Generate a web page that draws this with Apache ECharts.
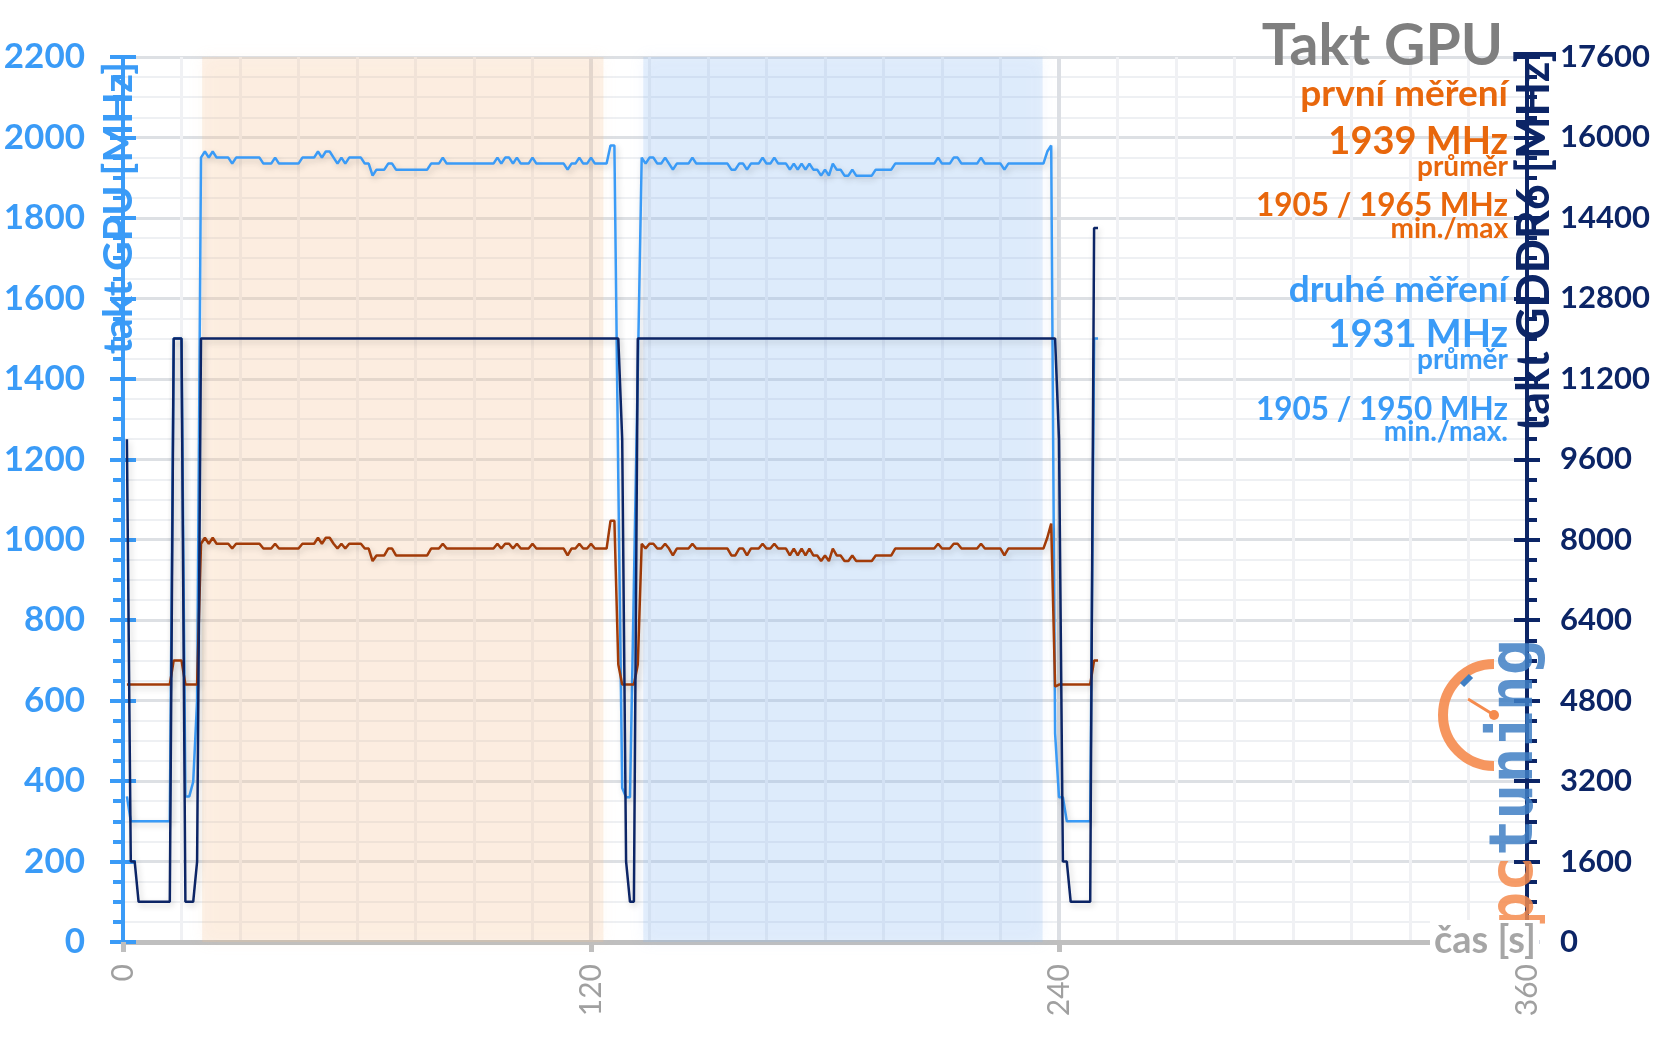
<!DOCTYPE html>
<html><head><meta charset="utf-8">
<script src="https://cdn.jsdelivr.net/npm/echarts@6/dist/echarts.min.js"></script>
<style>html,body{margin:0;padding:0;background:#fff}#c{width:1656px;height:1044px}</style>
</head><body><div id="c"></div><script>
// ---- data (one sample per second, first sample at t = 1 s) ----
const sampleStart = 1;   // s
const sampleStep = 1;    // s

// takt GPU [MHz] (left axis) – light blue line
const gpuClock = [
  362, 300, 300, 300, 300, 300, 300, 300, 300, 300,
  300, 300, 1500, 1500, 1500, 362, 362, 398, 600, 1950,
  1965, 1950, 1965, 1950, 1950, 1950, 1950, 1935, 1950, 1950,
  1950, 1950, 1950, 1950, 1950, 1935, 1935, 1935, 1950, 1935,
  1935, 1935, 1935, 1935, 1935, 1950, 1950, 1950, 1950, 1965,
  1950, 1965, 1965, 1950, 1935, 1950, 1935, 1950, 1950, 1950,
  1950, 1935, 1935, 1905, 1920, 1920, 1920, 1935, 1935, 1920,
  1920, 1920, 1920, 1920, 1920, 1920, 1920, 1920, 1935, 1935,
  1935, 1950, 1935, 1935, 1935, 1935, 1935, 1935, 1935, 1935,
  1935, 1935, 1935, 1935, 1935, 1950, 1935, 1950, 1950, 1935,
  1950, 1935, 1935, 1935, 1950, 1935, 1935, 1935, 1935, 1935,
  1935, 1935, 1935, 1920, 1935, 1935, 1950, 1935, 1935, 1950,
  1935, 1935, 1935, 1935, 1980, 1980, 1150, 383, 360, 360,
  890, 1420, 1950, 1935, 1950, 1950, 1935, 1935, 1950, 1935,
  1920, 1935, 1935, 1935, 1935, 1950, 1935, 1935, 1935, 1935,
  1935, 1935, 1935, 1935, 1935, 1920, 1920, 1935, 1935, 1920,
  1935, 1935, 1935, 1950, 1935, 1935, 1950, 1935, 1935, 1935,
  1920, 1935, 1920, 1935, 1920, 1935, 1920, 1920, 1905, 1920,
  1905, 1935, 1920, 1920, 1905, 1905, 1920, 1905, 1905, 1905,
  1905, 1905, 1920, 1920, 1920, 1920, 1920, 1935, 1935, 1935,
  1935, 1935, 1935, 1935, 1935, 1935, 1935, 1935, 1950, 1935,
  1935, 1935, 1950, 1950, 1935, 1935, 1935, 1935, 1935, 1950,
  1935, 1935, 1935, 1935, 1935, 1920, 1935, 1935, 1935, 1935,
  1935, 1935, 1935, 1935, 1935, 1935, 1965, 1980, 518, 360,
  360, 300, 300, 300, 300, 300, 300, 300, 1500, 1500
];

// brown trace (left axis units)
const brownTrace = [
  640, 640, 640, 640, 640, 640, 640, 640, 640, 640,
  640, 640, 700, 700, 700, 640, 640, 640, 640, 990,
  1005, 990, 1005, 990, 990, 990, 990, 978, 990, 990,
  990, 990, 990, 990, 990, 978, 978, 978, 990, 978,
  978, 978, 978, 978, 978, 990, 990, 990, 990, 1005,
  990, 1005, 1005, 990, 978, 990, 978, 990, 990, 990,
  990, 978, 978, 947, 961, 961, 961, 978, 978, 961,
  961, 961, 961, 961, 961, 961, 961, 961, 978, 978,
  978, 990, 978, 978, 978, 978, 978, 978, 978, 978,
  978, 978, 978, 978, 978, 990, 978, 990, 990, 978,
  990, 978, 978, 978, 990, 978, 978, 978, 978, 978,
  978, 978, 978, 961, 978, 978, 990, 978, 978, 990,
  978, 978, 978, 978, 1047, 1047, 690, 640, 640, 640,
  640, 690, 990, 978, 990, 990, 978, 978, 990, 978,
  961, 978, 978, 978, 978, 990, 978, 978, 978, 978,
  978, 978, 978, 978, 978, 961, 961, 978, 978, 961,
  978, 978, 978, 990, 978, 978, 990, 978, 978, 978,
  961, 978, 961, 978, 961, 978, 961, 961, 947, 961,
  947, 978, 961, 961, 947, 947, 961, 947, 947, 947,
  947, 947, 961, 961, 961, 961, 961, 978, 978, 978,
  978, 978, 978, 978, 978, 978, 978, 978, 990, 978,
  978, 978, 990, 990, 978, 978, 978, 978, 978, 990,
  978, 978, 978, 978, 978, 961, 978, 978, 978, 978,
  978, 978, 978, 978, 978, 978, 1005, 1040, 635, 640,
  640, 640, 640, 640, 640, 640, 640, 640, 700, 700
];

// takt GDDR6 [MHz] (right axis) – navy line
const memClock = [
  10000, 1600, 1600, 800, 800, 800, 800, 800, 800, 800,
  800, 800, 12000, 12000, 12000, 800, 800, 800, 1600, 12000,
  12000, 12000, 12000, 12000, 12000, 12000, 12000, 12000, 12000, 12000,
  12000, 12000, 12000, 12000, 12000, 12000, 12000, 12000, 12000, 12000,
  12000, 12000, 12000, 12000, 12000, 12000, 12000, 12000, 12000, 12000,
  12000, 12000, 12000, 12000, 12000, 12000, 12000, 12000, 12000, 12000,
  12000, 12000, 12000, 12000, 12000, 12000, 12000, 12000, 12000, 12000,
  12000, 12000, 12000, 12000, 12000, 12000, 12000, 12000, 12000, 12000,
  12000, 12000, 12000, 12000, 12000, 12000, 12000, 12000, 12000, 12000,
  12000, 12000, 12000, 12000, 12000, 12000, 12000, 12000, 12000, 12000,
  12000, 12000, 12000, 12000, 12000, 12000, 12000, 12000, 12000, 12000,
  12000, 12000, 12000, 12000, 12000, 12000, 12000, 12000, 12000, 12000,
  12000, 12000, 12000, 12000, 12000, 12000, 12000, 10000, 1600, 800,
  800, 12000, 12000, 12000, 12000, 12000, 12000, 12000, 12000, 12000,
  12000, 12000, 12000, 12000, 12000, 12000, 12000, 12000, 12000, 12000,
  12000, 12000, 12000, 12000, 12000, 12000, 12000, 12000, 12000, 12000,
  12000, 12000, 12000, 12000, 12000, 12000, 12000, 12000, 12000, 12000,
  12000, 12000, 12000, 12000, 12000, 12000, 12000, 12000, 12000, 12000,
  12000, 12000, 12000, 12000, 12000, 12000, 12000, 12000, 12000, 12000,
  12000, 12000, 12000, 12000, 12000, 12000, 12000, 12000, 12000, 12000,
  12000, 12000, 12000, 12000, 12000, 12000, 12000, 12000, 12000, 12000,
  12000, 12000, 12000, 12000, 12000, 12000, 12000, 12000, 12000, 12000,
  12000, 12000, 12000, 12000, 12000, 12000, 12000, 12000, 12000, 12000,
  12000, 12000, 12000, 12000, 12000, 12000, 12000, 12000, 12000, 10000,
  1600, 1600, 800, 800, 800, 800, 800, 800, 14200, 14200
];

// measurement windows [s]
const bandFirst = [20.3, 123.2];
const bandSecond = [133.4, 235.8];

// axes
const xTicks = { min: 0, max: 360, step: 120 };
const gpuAxis = { min: 0, max: 2200, step: 200 };
const memAxis = { min: 0, max: 17600, step: 1600 };

// side texts
const titleText = 'Takt GPU';
const firstLabel = ['první měření', '1939 MHz', 'průměr', '1905 / 1965 MHz', 'min./max'];
const secondLabel = ['druhé měření', '1931 MHz', 'průměr', '1905 / 1950 MHz', 'min./max.'];

// ---- chart ----
const FONT = 'Lato, "Open Sans", sans-serif';
const C_BLUE = '#3A9BF7', C_NAVY = '#0C2566', C_BROWN = '#A23B08', C_ORANGE = '#E8670C';
const toPairs = arr => arr.map((v, i) => [sampleStart + i * sampleStep, v]);
const shadow = { shadowColor: 'rgba(0,0,0,0.18)', shadowBlur: 6, shadowOffsetX: 2, shadowOffsetY: 3 };

function txt(text, x, y, size, color, align, extra) {
  return Object.assign({
    type: 'text', x: x, y: y, z: 100,
    style: Object.assign({
      text: text, fill: color, font: 'bold ' + size + 'px ' + FONT,
      textAlign: align || 'right', textVerticalAlign: 'middle'
    }, (extra && extra.style) || {})
  }, extra && extra.el || {});
}

function sideAxis(pos, ax, color, labelSize, margin, split) {
  return {
    type: 'value', position: pos, min: ax.min, max: ax.max, interval: ax.step,
    axisLine: { show: true, lineStyle: { color: color, width: 4 } },
    axisTick: { show: true, length: 13, lineStyle: { color: color, width: 4 } },
    minorTick: { show: true, splitNumber: 4, length: 10, lineStyle: { color: color, width: 4 } },
    axisLabel: { color: color, fontSize: labelSize, fontWeight: 'bold', fontFamily: FONT, margin: margin,
      formatter: v => String(v) },
    splitLine: { show: split, lineStyle: { color: '#DDE0E4', width: 3 } },
    minorSplitLine: { show: split, lineStyle: { color: '#EEF0F3', width: 2 } }
  };
}
function innerTicks(pos, ax, color) {
  return {
    type: 'value', position: pos, min: ax.min, max: ax.max, interval: ax.step,
    axisLine: { show: false }, axisLabel: { show: false }, splitLine: { show: false },
    axisTick: { show: true, inside: true, length: 13, lineStyle: { color: color, width: 4 } }
  };
}

const chart = echarts.init(document.getElementById('c'));
chart.setOption({
  animation: false,
  grid: { left: 123, right: 129, top: 57, bottom: 102 },
  xAxis: {
    type: 'value', min: xTicks.min, max: xTicks.max, interval: xTicks.step,
    axisLine: { lineStyle: { color: '#BFBFBF', width: 5 } },
    axisTick: { length: 10, lineStyle: { color: '#BFBFBF', width: 5 } },
    axisLabel: { rotate: 90, color: '#A0A0A0', fontSize: 30, fontFamily: FONT, margin: 22, formatter: v => String(v) },
    splitLine: { show: true, lineStyle: { color: '#DCDFE4', width: 4 } },
    minorTick: { show: false, splitNumber: 8 },
    minorSplitLine: { show: true, lineStyle: { color: '#F0F1F4', width: 3 } }
  },
  yAxis: [
    sideAxis('left', gpuAxis, C_BLUE, 35, 38, true),
    sideAxis('right', memAxis, C_NAVY, 31, 33, false),
    innerTicks('left', gpuAxis, C_BLUE),
    innerTicks('right', memAxis, C_NAVY)
  ],
  series: [
    {
      type: 'line', data: [], z: 1,
      markArea: {
        silent: true,
        data: [
          [{ xAxis: bandFirst[0], itemStyle: { color: 'rgba(248,198,148,0.22)', shadowBlur: 14, shadowColor: 'rgba(248,198,148,0.45)' } }, { xAxis: bandFirst[1] }],
          [{ xAxis: bandSecond[0], itemStyle: { color: 'rgba(142,188,242,0.22)', shadowBlur: 14, shadowColor: 'rgba(142,188,242,0.45)' } }, { xAxis: bandSecond[1] }]
        ]
      }
    },
    { type: 'line', name: 'takt GPU', yAxisIndex: 0, data: toPairs(gpuClock), symbol: 'none', z: 3,
      lineStyle: Object.assign({ color: C_BLUE, width: 2.5 }, shadow) },
    { type: 'line', name: 'brown', yAxisIndex: 0, data: toPairs(brownTrace), symbol: 'none', z: 4,
      lineStyle: Object.assign({ color: C_BROWN, width: 2.5 }, shadow) },
    { type: 'line', name: 'takt GDDR6', yAxisIndex: 1, data: toPairs(memClock), symbol: 'none', z: 5,
      lineStyle: Object.assign({ color: C_NAVY, width: 2.5 }, shadow) }
  ],
  graphic: [
    txt(titleText, 1503, 47, 57, '#7F7F7F'),
    txt(firstLabel[0], 1508, 94, 37, C_ORANGE),
    txt(firstLabel[1], 1508, 142, 38, C_ORANGE),
    txt(firstLabel[2], 1508, 167, 28, C_ORANGE),
    txt(firstLabel[3], 1508, 206, 31.5, C_ORANGE),
    txt(firstLabel[4], 1508, 229, 28, C_ORANGE),
    txt(secondLabel[0], 1508, 290, 37, C_BLUE),
    txt(secondLabel[1], 1508, 335, 38, C_BLUE),
    txt(secondLabel[2], 1508, 360, 28, C_BLUE),
    txt(secondLabel[3], 1508, 410, 31.5, C_BLUE),
    txt(secondLabel[4], 1508, 432, 28, C_BLUE),
    txt('takt GPU [MHz]', 119, 208, 41, C_BLUE, 'center',
      { el: { rotation: Math.PI / 2, zlevel: 1 }, style: { shadowColor: 'rgba(255,255,255,0.9)', shadowBlur: 5 } }),
    txt('takt GDDR6 [MHz]', 1534, 240, 45, C_NAVY, 'center',
      { el: { rotation: Math.PI / 2, zlevel: 1 }, style: { shadowColor: 'rgba(255,255,255,0.9)', shadowBlur: 5 } }),
    // logo watermark
    { type: 'arc', z: 90, shape: { cx: 1494, cy: 715, r: 51, startAngle: Math.PI / 2, endAngle: Math.PI * 1.5, clockwise: true },
      style: { stroke: '#F58B4E', lineWidth: 10, fill: null, opacity: 0.9 } },
    { type: 'line', z: 90, shape: { x1: 1494, y1: 715, x2: 1468, y2: 699 }, style: { stroke: '#F58B4E', lineWidth: 3 } },
    { type: 'circle', z: 90, shape: { cx: 1494, cy: 715, r: 5 }, style: { fill: '#F58B4E' } },
    { type: 'line', z: 90, shape: { x1: 1462, y1: 685, x2: 1471, y2: 676 }, style: { stroke: '#3F7FC4', lineWidth: 6 } },
    { type: 'text', z: 95, x: 1516, y: 928, rotation: Math.PI / 2,
      style: { text: '{a|pc}{b|tuning}', textAlign: 'left', textVerticalAlign: 'middle', opacity: 0.85,
        rich: { a: { fill: '#F58B4E', font: 'bold 60px "DejaVu Sans Mono"' }, b: { fill: '#3F7FC4', font: 'bold 60px "DejaVu Sans Mono"' } } } },
    txt('čas [s]', 1430, 941, 38, '#A6A6A6', 'left', { style: { backgroundColor: '#ffffff', padding: [2, 4] } })
  ]
});
</script></body></html>
